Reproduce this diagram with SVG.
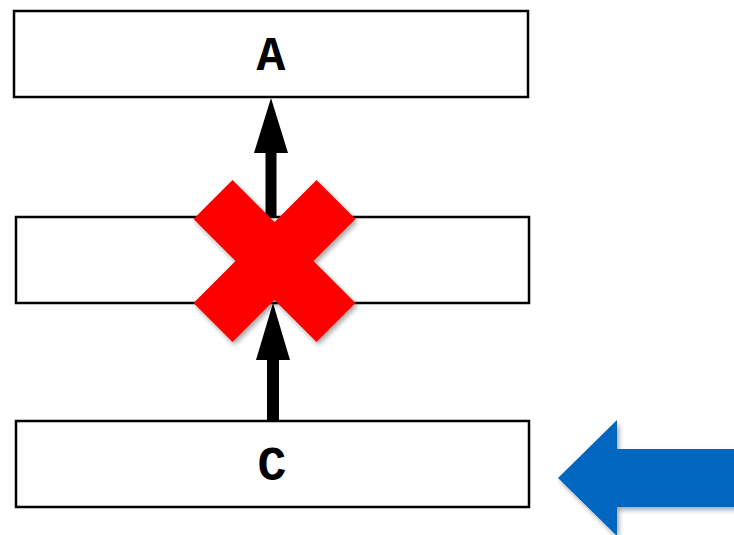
<svg xmlns="http://www.w3.org/2000/svg" width="734" height="535" viewBox="0 0 734 535">
  <style>
    .box { fill: #ffffff; stroke: #000000; stroke-width: 2.5; }
    .label { font-family: "Liberation Mono", "Courier New", monospace; font-weight: bold; font-size: 48px; fill: #000000; text-anchor: middle; }
    .conn { fill: #000000; }
  </style>
  <defs>
    <filter id="shadow" x="-20%" y="-20%" width="140%" height="140%">
      <feDropShadow dx="2" dy="3" stdDeviation="2.5" flood-color="#000000" flood-opacity="0.35"/>
    </filter>
  </defs>
  <rect width="734" height="535" fill="#ffffff"/>

  <g id="node-a">
    <rect class="box" x="14" y="11" width="514" height="86"/>
    <text class="label" x="271" y="70">A</text>
  </g>
  <g id="node-b">
    <rect class="box" x="16" y="217" width="513" height="86"/>
  </g>
  <g id="node-c">
    <rect class="box" x="16" y="421" width="513" height="86"/>
    <text class="label" x="272" y="480">C</text>
  </g>

  <g id="connectors">
    <!-- B to A -->
    <polygon class="conn" points="271,98 288,153 276.5,153 276.5,217 265.5,217 265.5,153 254,153"/>
    <!-- C to B -->
    <polygon class="conn" points="273,303 290,360 279,360 279,421 267,421 267,360 256,360"/>
  </g>

  <!-- blocked link mark -->
  <g id="cross" filter="url(#shadow)">
    <polygon fill="#ff0000" transform="translate(274.5,261)"
      points="0,-39 42,-81 81,-42 39,0 81,42 42,81 0,39 -42,81 -81,42 -39,0 -81,-42 -42,-81"/>
  </g>

  <!-- pointer towards C -->
  <g id="pointer" filter="url(#shadow)">
    <polygon fill="#0066bf" points="558,478 617,420 617,449 740,449 740,507 617,507 617,536"/>
  </g>
</svg>
